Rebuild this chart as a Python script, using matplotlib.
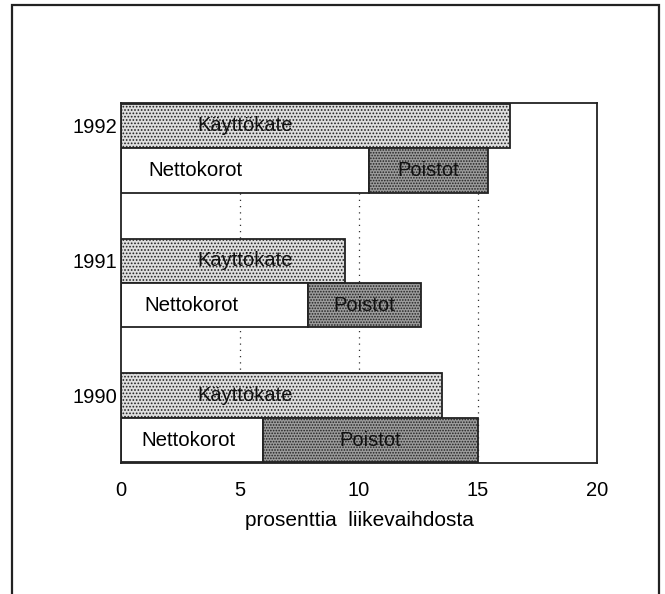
import matplotlib
matplotlib.use("Agg")
import matplotlib.pyplot as plt
from matplotlib.patches import Rectangle
import numpy as np

plt.rcParams['font.family'] = ['Liberation Sans', 'DejaVu Sans']
plt.rcParams['hatch.linewidth'] = 0.8

years = ["1990", "1991", "1992"]
kayttokate = [13.5, 9.4, 16.35]
nettokorot = [5.95, 7.85, 10.4]
poistot = [9.05, 4.75, 5.0]   # stacked after nettokorot
x_ticks = [0, 5, 10, 15, 20]
xlabel = "prosenttia  liikevaihdosta"

W, H = 665, 594
fig = plt.figure(figsize=(W / 100, H / 100), dpi=100)
# outer frame
fig.patches.append(Rectangle((12 / W, -0.01), (659 - 12) / W, 1 - 5 / H + 0.01,
                             transform=fig.transFigure, fill=False,
                             edgecolor='#222222', linewidth=1.6))

ax = fig.add_axes([121 / W, 1 - 463 / H, (597 - 121) / W, (463 - 103) / H])
h = 0.33
g = np.arange(len(years))

for xv in [5, 10, 15]:
    ax.axvline(xv, color='#333333', linestyle=(0, (1, 4)), linewidth=0.9, zorder=0)

ax.barh(g + h / 2, kayttokate, height=h, color='#dedede', edgecolor='#222222',
        hatch='.....', linewidth=1.3, zorder=2)
ax.barh(g - h / 2, nettokorot, height=h, color='white', edgecolor='#222222',
        linewidth=1.3, zorder=2)
ax.barh(g - h / 2, poistot, left=nettokorot, height=h, color='#9c9c9c',
        edgecolor='#222222', hatch='......', linewidth=1.3, zorder=2)

for i in range(len(years)):
    ax.text(5.2, g[i] + h / 2, "Käyttökate", ha='center', va='center',
            fontsize=14.5, color='#111111', zorder=3)
    ax.text(0.85 + 0.15 * i, g[i] - h / 2, "Nettokorot", ha='left', va='center',
            fontsize=14.8, color='#000000', zorder=3)
    ax.text(nettokorot[i] + poistot[i] / 2, g[i] - h / 2, "Poistot", ha='center',
            va='center', fontsize=14.5, color='#111111', zorder=3)

ax.set_xlim(0, 20)
ax.set_ylim(-h - 0.005, 2 + h + 0.005)
ax.set_xticks(x_ticks)
ax.set_xticklabels([str(v) for v in x_ticks], fontsize=14.5)
ax.set_yticks(g + h / 2)
ax.set_yticklabels(years, fontsize=14.5)
ax.tick_params(length=0, pad=3)
ax.tick_params(axis='x', pad=13)
for s in ax.spines.values():
    s.set_linewidth(1.3)
    s.set_color('#222222')
ax.set_xlabel(xlabel, fontsize=15, labelpad=8)

fig.savefig("out.png", dpi=100)
